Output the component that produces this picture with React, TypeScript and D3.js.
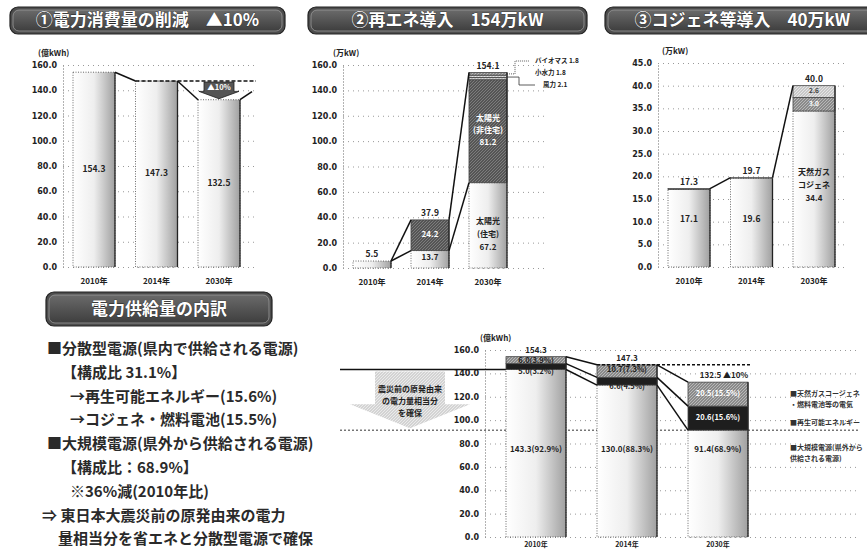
import React, { useEffect, useRef } from 'react';
import * as d3 from 'd3';

const years = ['2010年', '2014年', '2030年'];

// ① 電力消費量 (億kWh)
const consumption = [154.3, 147.3, 132.5];
const consumptionTicks = [0, 20, 40, 60, 80, 100, 120, 140, 160];

// ② 再エネ導入 (万kW)
const solarHome = [5.5, 13.7, 67.2];
const solarBiz = [0, 24.2, 81.2];
const biomass = [0, 0, 1.8];
const smallHydro = [0, 0, 1.8];
const wind = [0, 0, 2.1];
const renewTotals = [5.5, 37.9, 154.1];
const renewSmallLabels = ['バイオマス 1.8', '小水力 1.8', '風力 2.1'];

// ③ コジェネ等導入 (万kW)
const gasCogen = [17.1, 19.6, 34.4];
const cogenMid = [0.2, 0.1, 3.0];
const cogenTop = [0, 0, 2.6];
const cogenTotals = [17.3, 19.7, 40.0];
const cogenTicks = [0, 5, 10, 15, 20, 25, 30, 35, 40, 45];

// 電力供給量の内訳 (億kWh)
const supplyLarge = [143.3, 130.0, 91.4];
const supplyRenew = [5.0, 6.6, 20.6];
const supplyCogen = [6.0, 10.7, 20.5];
const supplyTotals = [154.3, 147.3, 132.5];
const supplyLargeLabels = ['143.3(92.9%)', '130.0(88.3%)', '91.4(68.9%)'];
const supplyRenewLabels = ['5.0(3.2%)', '6.6(4.5%)', '20.6(15.6%)'];
const supplyCogenLabels = ['6.0(3.9%)', '10.7(7.3%)', '20.5(15.5%)'];
const supplyLegend = [
  ['■天然ガスコージェネ', '・燃料電池等の電気'],
  ['■再生可能エネルギー'],
  ['■大規模電源(県外から', '供給される電源)'],
];

const bulletLines = [
  { text: '■分散型電源(県内で供給される電源)', x: 47 },
  { text: '【構成比 31.1%】', x: 62 },
  { text: '→再生可能エネルギー(15.6%)', x: 70 },
  { text: '→コジェネ・燃料電池(15.5%)', x: 70 },
  { text: '■大規模電源(県外から供給される電源)', x: 47 },
  { text: '【構成比：68.9%】', x: 62 },
  { text: '※36%減(2010年比)', x: 70 },
  { text: '⇒ 東日本大震災前の原発由来の電力', x: 42 },
  { text: '量相当分を省エネと分散型電源で確保', x: 58 },
];

const JP = '"Noto Sans CJK JP", "Noto Sans", sans-serif';
const NUM = '"DejaVu Sans", Verdana, sans-serif';

function header(svg, x, y, w, h, label) {
  const g = svg.append('g');
  g.append('rect').attr('x', x).attr('y', y).attr('width', w).attr('height', h)
    .attr('rx', 8).attr('fill', '#4d4d4d').attr('stroke', '#222').attr('stroke-width', 1.2);
  g.append('rect').attr('x', x + 3).attr('y', y + 3).attr('width', w - 6).attr('height', h - 6)
    .attr('rx', 6).attr('fill', 'url(#hdrGrad)').attr('stroke', '#999').attr('stroke-width', 0.8);
  g.append('text').attr('x', x + w / 2).attr('y', y + h / 2 + 1)
    .attr('text-anchor', 'middle').attr('dominant-baseline', 'middle')
    .attr('font-family', JP).attr('font-weight', 'bold').attr('font-size', 17)
    .attr('fill', '#fff').attr('stroke', '#222').attr('stroke-width', 0.6)
    .attr('paint-order', 'stroke')
    .text(label);
}

function axis(svg, y, left, right, ticks, unit, unitX) {
  const g = svg.append('g').attr('transform', `translate(${left},0)`)
    .call(d3.axisLeft(y).tickValues(ticks).tickFormat(d3.format('.1f'))
      .tickSize(-(right - left)).tickSizeOuter(0).tickPadding(6));
  g.select('.domain').attr('stroke', '#666').attr('stroke-dasharray', '1,2');
  g.selectAll('.tick line').attr('stroke', '#999').attr('stroke-dasharray', '1,4');
  g.selectAll('.tick text').attr('font-family', NUM).attr('font-weight', 'bold')
    .attr('font-size', 8).attr('fill', '#222');
  svg.append('text').attr('x', unitX).attr('y', y(ticks[ticks.length - 1]) - 9)
    .attr('font-family', JP).attr('font-weight', 'bold').attr('font-size', 8)
    .attr('fill', '#222').text(unit);
}

function rectBar(g, cx, w, yTop, yBot, fill, dotted = true) {
  if (yBot - yTop <= 0) return;
  g.append('rect').attr('x', cx - w / 2).attr('y', yTop).attr('width', w).attr('height', yBot - yTop)
    .attr('fill', fill).attr('stroke', '#444').attr('stroke-width', 0.8)
    .attr('stroke-dasharray', dotted ? '1,1.5' : null);
  g.append('line').attr('x1', cx + w / 2).attr('x2', cx + w / 2).attr('y1', yTop).attr('y2', yBot)
    .attr('stroke', '#222').attr('stroke-width', 1.3);
}

function label(g, x, y, t, size = 8.5, fill = '#222', anchor = 'middle') {
  g.append('text').attr('x', x).attr('y', y).attr('text-anchor', anchor)
    .attr('dominant-baseline', 'middle')
    .attr('font-family', JP).attr('font-weight', 'bold').attr('font-size', size)
    .attr('fill', fill).text(t);
}

function catLabels(g, x, yPos) {
  years.forEach(d => label(g, x(d), yPos, d, 8));
}

function connector(g, x1, y1, x2, y2, dash = null) {
  g.append('line').attr('x1', x1).attr('y1', y1).attr('x2', x2).attr('y2', y2)
    .attr('stroke', '#111').attr('stroke-width', 1.5).attr('stroke-dasharray', dash);
}

export default function App() {
  const svgRef = useRef(null);

  useEffect(() => {
    const svg = d3.select(svgRef.current);
    svg.selectAll('*').remove();

    const defs = svg.append('defs');
    const lg = defs.append('linearGradient').attr('id', 'lightGrad');
    lg.append('stop').attr('offset', '0%').attr('stop-color', '#ffffff');
    lg.append('stop').attr('offset', '50%').attr('stop-color', '#eeeeee');
    lg.append('stop').attr('offset', '100%').attr('stop-color', '#a0a0a0');
    const hg = defs.append('linearGradient').attr('id', 'hdrGrad').attr('x2', 0).attr('y2', 1);
    hg.append('stop').attr('offset', '0%').attr('stop-color', '#6a6a6a');
    hg.append('stop').attr('offset', '100%').attr('stop-color', '#3e3e3e');
    const hatch = (id, bg, fg) => {
      const p = defs.append('pattern').attr('id', id).attr('patternUnits', 'userSpaceOnUse')
        .attr('width', 3).attr('height', 3);
      p.append('rect').attr('width', 3).attr('height', 3).attr('fill', bg);
      p.append('path').attr('d', 'M0,3 L3,0').attr('stroke', fg).attr('stroke-width', 0.8);
    };
    hatch('darkHatch', '#555', '#888');
    hatch('midHatch', '#8a8a8a', '#c4c4c4');
    hatch('lightHatch', '#c8c8c8', '#eee');
    hatch('greyHatch', '#bbb', '#ddd');

    svg.append('rect').attr('width', 867).attr('height', 550).attr('fill', '#fff');

    // ---------- ① 電力消費量の削減
    header(svg, 10, 7, 275, 27, '①電力消費量の削減　▲10%');
    const y1 = d3.scaleLinear().domain([0, 160]).range([267, 65]);
    axis(svg, y1, 63, 255, consumptionTicks, '(億kWh)', 38);
    const x1 = d3.scalePoint().domain(years).range([94, 219]);
    const g1 = svg.append('g');
    const w1 = 42;
    consumption.forEach((v, i) => {
      rectBar(g1, x1(years[i]), w1, y1(v), y1(0), 'url(#lightGrad)');
      label(g1, x1(years[i]), y1(v / 2), v.toFixed(1), 8.5);
    });
    connector(g1, x1(years[0]) + w1 / 2, y1(consumption[0]), x1(years[1]) - w1 / 2, y1(consumption[1]));
    connector(g1, x1(years[1]) - w1 / 2, y1(consumption[1]), 256, y1(consumption[1]), '4,2');
    connector(g1, x1(years[1]) + w1 / 2, y1(consumption[1]), x1(years[2]) - w1 / 2, y1(consumption[2]));
    {
      const cx = x1(years[2]);
      const yt = y1(consumption[1]) + 1, yb = y1(consumption[2]) - 1, ym = (yt + yb) / 2 + 1;
      g1.append('polygon')
        .attr('points', [[cx - 15, yt], [cx + 15, yt], [cx + 15, ym], [cx + 20, ym], [cx, yb], [cx - 20, ym], [cx - 15, ym]].join(' '))
        .attr('fill', '#555').attr('stroke', '#222').attr('stroke-width', 0.8);
      label(g1, cx, yt + 6, '▲10%', 7.5, '#fff');
      connector(g1, cx + w1 / 2, y1(consumption[2]), 252, y1(139));
    }
    catLabels(g1, x1, 282);

    // ---------- ② 再エネ導入
    header(svg, 308, 7, 279, 27, '②再エネ導入　154万kW');
    const y2 = d3.scaleLinear().domain([0, 160]).range([268, 65]);
    axis(svg, y2, 343, 545, consumptionTicks, '(万kW)', 333);
    const x2 = d3.scalePoint().domain(years).range([372, 488]);
    const g2 = svg.append('g');
    const w2 = 38;
    const stack2 = d3.stack().keys(['home', 'biz', 'bio', 'hydro', 'wind'])(
      years.map((_, i) => ({ home: solarHome[i], biz: solarBiz[i], bio: biomass[i], hydro: smallHydro[i], wind: wind[i] }))
    );
    const fills2 = ['url(#lightGrad)', 'url(#darkHatch)', 'url(#greyHatch)', 'url(#lightHatch)', 'url(#midHatch)'];
    stack2.forEach((layer, k) => {
      layer.forEach((d, i) => rectBar(g2, x2(years[i]), w2, y2(d[1]), y2(d[0]), fills2[k], k === 0));
    });
    renewTotals.forEach((v, i) => label(g2, x2(years[i]), y2(v) - 6, v.toFixed(1), 8.5));
    {
      const l = i => x2(years[i]) - w2 / 2, r = i => x2(years[i]) + w2 / 2;
      connector(g2, r(0), y2(renewTotals[0]), l(1), y2(renewTotals[1]));
      connector(g2, r(0), y2(renewTotals[0]), l(1), y2(solarHome[1]));
      connector(g2, r(1), y2(renewTotals[1]), l(2), y2(renewTotals[2]));
      connector(g2, r(1), y2(solarHome[1]), l(2), y2(solarHome[2]));
      label(g2, x2(years[1]), y2(solarHome[1] + solarBiz[1] / 2), solarBiz[1].toFixed(1), 8, '#fff');
      label(g2, x2(years[1]), y2(solarHome[1] / 2) - 1, solarHome[1].toFixed(1), 8);
      const mid = y2(solarHome[2] + solarBiz[2] / 2);
      label(g2, x2(years[2]), mid - 12, '太陽光', 8, '#fff');
      label(g2, x2(years[2]), mid, '(非住宅)', 8, '#fff');
      label(g2, x2(years[2]), mid + 12, solarBiz[2].toFixed(1), 8, '#fff');
      label(g2, x2(years[2]), 222, '太陽光', 8);
      label(g2, x2(years[2]), 235, '(住宅)', 8);
      label(g2, x2(years[2]), 248, solarHome[2].toFixed(1), 8);
      // small legend brackets
      const bx = r(2);
      g2.append('path').attr('d', `M${bx},${y2(153)} H${bx + 8} V61 H${bx + 22}`)
        .attr('fill', 'none').attr('stroke', '#333').attr('stroke-width', 0.8).attr('stroke-dasharray', '1,1');
      g2.append('path').attr('d', `M${bx},${y2(150.5)} H${bx + 12} V85 H${bx + 28}`)
        .attr('fill', 'none').attr('stroke', '#333').attr('stroke-width', 0.8);
      label(g2, 535, 61, renewSmallLabels[0], 6.5, '#222', 'start');
      label(g2, 535, 73, renewSmallLabels[1], 6.5, '#222', 'start');
      label(g2, 543, 85, renewSmallLabels[2], 6.5, '#222', 'start');
    }
    catLabels(g2, x2, 283);

    // ---------- ③ コジェネ等導入
    header(svg, 605, 7, 275, 27, '③コジェネ等導入　40万kW');
    const y3 = d3.scaleLinear().domain([0, 45]).range([267, 63]);
    axis(svg, y3, 658, 845, cogenTicks, '(万kW)', 662);
    const x3 = d3.scalePoint().domain(years).range([689, 814]);
    const g3 = svg.append('g');
    const w3 = 42;
    const stack3 = d3.stack().keys(['gas', 'mid', 'top'])(
      years.map((_, i) => ({ gas: gasCogen[i], mid: cogenMid[i], top: cogenTop[i] }))
    );
    const fills3 = ['url(#lightGrad)', 'url(#midHatch)', 'url(#lightHatch)'];
    stack3.forEach((layer, k) => {
      layer.forEach((d, i) => rectBar(g3, x3(years[i]), w3, y3(d[1]), y3(d[0]), fills3[k], k === 0));
    });
    cogenTotals.forEach((v, i) => label(g3, x3(years[i]), y3(v) - 6, v.toFixed(1), 8.5));
    label(g3, x3(years[0]), 220, gasCogen[0].toFixed(1), 8.5);
    label(g3, x3(years[1]), 220, gasCogen[1].toFixed(1), 8.5);
    label(g3, x3(years[2]), 173, '天然ガス', 8);
    label(g3, x3(years[2]), 186, 'コジェネ', 8);
    label(g3, x3(years[2]), 199, gasCogen[2].toFixed(1), 8);
    label(g3, x3(years[2]), y3(gasCogen[2] + cogenMid[2] / 2), cogenMid[2].toFixed(1), 6.5, '#fff');
    label(g3, x3(years[2]), y3(gasCogen[2] + cogenMid[2] + cogenTop[2] / 2), cogenTop[2].toFixed(1), 6.5, '#444');
    connector(g3, x3(years[0]) + w3 / 2, y3(cogenTotals[0]), x3(years[1]) - w3 / 2, y3(cogenTotals[1]));
    connector(g3, x3(years[1]) + w3 / 2, y3(cogenTotals[1]), x3(years[2]) - w3 / 2, y3(cogenTotals[2]));
    catLabels(g3, x3, 282);

    // ---------- 電力供給量の内訳
    header(svg, 46, 292, 226, 34, '電力供給量の内訳');
    bulletLines.forEach((d, i) => {
      svg.append('text').attr('x', d.x).attr('y', 350 + i * 23.8)
        .attr('dominant-baseline', 'middle')
        .attr('font-family', JP).attr('font-weight', 'bold').attr('font-size', 15)
        .attr('fill', '#2a2a2a').text(d.text);
    });

    const y4 = d3.scaleLinear().domain([0, 160]).range([537, 350]);
    axis(svg, y4, 485, 860, consumptionTicks, '(億kWh)', 480);
    const x4 = d3.scalePoint().domain(years).range([536, 718]);
    const g4 = svg.append('g');
    const w4 = 60;
    const stack4 = d3.stack().keys(['large', 'renew', 'cogen'])(
      years.map((_, i) => ({ large: supplyLarge[i], renew: supplyRenew[i], cogen: supplyCogen[i] }))
    );
    const fills4 = ['url(#lightGrad)', '#1e1e1e', 'url(#midHatch)'];
    // reference lines
    g4.append('line').attr('x1', 340).attr('x2', 860).attr('y1', y4(supplyLarge[2])).attr('y2', y4(supplyLarge[2]))
      .attr('stroke', '#333').attr('stroke-width', 1).attr('stroke-dasharray', '2,2');
    g4.append('line').attr('x1', 340).attr('x2', x4(years[0]) - w4 / 2).attr('y1', y4(supplyLarge[0])).attr('y2', y4(supplyLarge[0]))
      .attr('stroke', '#111').attr('stroke-width', 1.5);
    stack4.forEach((layer, k) => {
      layer.forEach((d, i) => rectBar(g4, x4(years[i]), w4, y4(d[1]), y4(d[0]), fills4[k], k === 0));
    });
    connector(g4, x4(years[1]) - w4 / 2, y4(supplyTotals[1]), 752, y4(supplyTotals[1]), '3,2');
    [0, 1].forEach(i => {
      const r = x4(years[i]) + w4 / 2, l = x4(years[i + 1]) - w4 / 2;
      connector(g4, r, y4(supplyTotals[i]), l, y4(supplyTotals[i + 1]));
      connector(g4, r, y4(supplyLarge[i] + supplyRenew[i]), l, y4(supplyLarge[i + 1] + supplyRenew[i + 1]));
      connector(g4, r, y4(supplyLarge[i]), l, y4(supplyLarge[i + 1]));
    });
    label(g4, x4(years[0]), y4(supplyTotals[0]) - 6, supplyTotals[0].toFixed(1), 8);
    label(g4, x4(years[1]), y4(supplyTotals[1]) - 6, supplyTotals[1].toFixed(1), 8);
    label(g4, x4(years[2]) + 6, y4(supplyTotals[2]) - 6, supplyTotals[2].toFixed(1) + ' ▲10%', 8);
    label(g4, x4(years[0]), y4(supplyTotals[0]) + 4, supplyCogenLabels[0], 7.5);
    label(g4, x4(years[0]), y4(supplyLarge[0]) + 2, supplyRenewLabels[0], 7.5);
    label(g4, x4(years[1]), y4(supplyTotals[1]) + 5, supplyCogenLabels[1], 7.5);
    label(g4, x4(years[1]), y4(supplyLarge[1]) + 2, supplyRenewLabels[1], 7.5);
    label(g4, x4(years[2]), y4(supplyLarge[2] + supplyRenew[2] + supplyCogen[2] / 2), supplyCogenLabels[2], 7.5, '#fff');
    label(g4, x4(years[2]), y4(supplyLarge[2] + supplyRenew[2] / 2), supplyRenewLabels[2], 7.5, '#fff');
    supplyLargeLabels.forEach((t, i) => label(g4, x4(years[i]), y4(supplyLarge[2] * 0.82), t, 8));
    years.forEach(d => label(g4, x4(d), 545, d, 7));

    // left annotation arrow
    {
      const yt = y4(supplyLarge[0]) + 2, yb = y4(supplyLarge[2]) - 2;
      g4.append('polygon')
        .attr('points', [[375, yt], [445, yt], [445, yb - 24], [470, yb - 24], [410, yb], [350, yb - 24], [375, yb - 24]].join(' '))
        .attr('fill', 'url(#lightHatch)').attr('opacity', 0.8);
      label(g4, 410, 390, '震災前の原発由来', 8);
      label(g4, 410, 402, 'の電力量相当分', 8);
      label(g4, 410, 414, 'を確保', 8);
    }
    // legend
    let ly = 394;
    supplyLegend.forEach((lines, k) => {
      lines.forEach((t, j) => label(g4, 790, ly + j * 11, t, 7, '#333', 'start'));
      ly += k === 0 ? 29 : 25;
    });
  }, []);

  return (
    <svg ref={svgRef} width={867} height={550}
      style={{ position: 'absolute', left: 0, top: 0, background: '#fff' }} />
  );
}
